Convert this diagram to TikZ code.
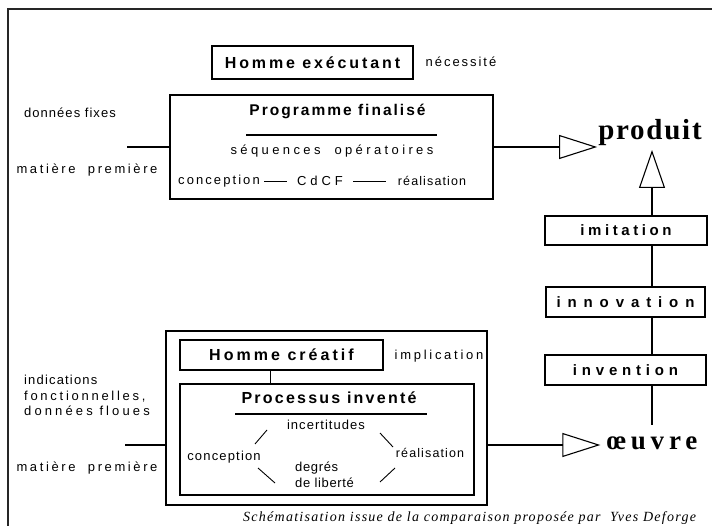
\documentclass[tikz,border=0pt]{standalone}
\usepackage{fontspec}
\setmainfont{Liberation Sans}
\newfontfamily\serifface{Liberation Serif}
\usetikzlibrary{arrows.meta}
\newcommand{\ls}[2]{{\addfontfeatures{LetterSpace=#1}#2}}
\newcommand{\fs}[1]{\fontsize{#1}{#1}\selectfont}
\tikzset{
  box/.style={draw, line width=1.2pt, inner sep=0pt, align=center},
  lbl/.style={inner sep=0pt, anchor=center},
  wire/.style={line width=1.1pt},
  openarrow/.style={line width=1.1pt, -{Triangle[open, length=38pt, width=24pt, line width=1.1pt]}},
  openarrowv/.style={line width=1.1pt, -{Triangle[open, length=38pt, width=26pt, line width=1.1pt]}},
}
\begin{document}
\begin{tikzpicture}[x=1pt, y=-1pt]
\useasboundingbox (0,0) rectangle (712,526);
\clip (0,0) rectangle (712,526);
% outer frame
\draw[line width=1.6pt, black!85] (8,530) -- (8,9) -- (716,9);

% ---- upper part ----
\node[box, minimum width=201pt, minimum height=33pt] (homexec) at (312.5,62.5)
  {\fs{16}\bfseries\ls{18}{Homme exécutant}};
\node[lbl] (necess) at (461,62) {\fs{13}\ls{15}{nécessité}};
\node[box, minimum width=323pt, minimum height=104pt] (prog) at (331.5,147) {};
\node[lbl] (progt) at (337.5,111) {\fs{15.5}\bfseries\ls{13}{Programme finalisé}};
\coordinate (r1a) at (246,135);
\coordinate (r1b) at (437,135);
\draw[wire] (r1a) -- (r1b);
\node[lbl] (sequ) at (332,151) {\fs{13}\ls{26}{séquences\ \ opératoires}};
\node[lbl] (conc1) at (219,181) {\fs{13}\ls{16}{conception}};
\node[lbl] (cdcf) at (320,181) {\fs{13}\ls{30}{CdCF}};
\node[lbl] (real1) at (432,181) {\fs{12.5}\ls{9}{réalisation}};
\draw[line width=0.9pt, shorten <=4pt, shorten >=10pt] (conc1.east) -- (cdcf.west);
\draw[line width=0.9pt, shorten <=10pt, shorten >=12pt] (cdcf.east) -- (real1.west);

\node[lbl] (donnees) at (70,113) {\fs{13}\ls{8}{données fixes}};
\node[lbl] (mat1) at (87,170) {\fs{13}\ls{20}{matière\ \ première}};
\coordinate (in1) at (127,147);
\draw[wire] (in1) -- (prog.west);

\node[lbl, font=\serifface\bfseries] (produit) at (650,133) {\fs{29}\ls{6}{produit}};
\draw[openarrow] (prog.east) -- ([xshift=-1pt]produit.west |- prog.east);

% ---- right column ----
\node[box, minimum width=162pt, minimum height=29pt] (imit) at (626,230.5)
  {\fs{15}\bfseries\ls{24}{imitation}};
\node[box, minimum width=159pt, minimum height=30pt] (innov) at (625.5,302)
  {\fs{15}\bfseries\ls{46}{innovation}};
\node[box, minimum width=161pt, minimum height=30pt] (inven) at (625.5,370)
  {\fs{15}\bfseries\ls{32}{invention}};
\node[lbl, font=\serifface\bfseries] (oeuvre) at (652,443) {\fs{27}\ls{18}{œuvre}};
\coordinate (imtop) at (652,216);
\coordinate (protip) at (652,150);
\draw[openarrowv] (imtop) -- (protip);
\draw[wire] (imit.south -| imtop) -- (innov.north -| imtop);
\draw[wire] (innov.south -| imtop) -- (inven.north -| imtop);
\draw[wire] (inven.south -| imtop) -- (652,425);

% ---- lower part ----
\node[box, minimum width=321pt, minimum height=174pt] (crea) at (326.5,418) {};
\node[box, minimum width=203pt, minimum height=30pt] (homcrea) at (281.5,355)
  {\fs{16}\bfseries\ls{19}{Homme créatif}};
\node[lbl] (implic) at (439,356) {\fs{13}\ls{21}{implication}};
\node[box, minimum width=294pt, minimum height=111pt] (proc) at (327,439.5) {};
\draw[wire] ([xshift=-11pt]homcrea.south) -- ([xshift=-11pt]homcrea.south |- proc.north);
\node[lbl] (proct) at (329,398) {\fs{16}\bfseries\ls{14}{Processus inventé}};
\coordinate (r2a) at (235,414);
\coordinate (r2b) at (427,414);
\draw[wire] (r2a) -- (r2b);
\node[lbl] (incert) at (326,425) {\fs{13}\ls{8}{incertitudes}};
\node[lbl] (conc2) at (224,457) {\fs{13}\ls{9}{conception}};
\node[lbl, anchor=north west, align=left, font=\fontsize{13}{16}\selectfont] (degres) at (295,462)
  {\ls{5}{degrés}\\\ls{5}{de liberté}};
\node[lbl] (real2) at (430,453) {\fs{12.5}\ls{9}{réalisation}};
\draw[line width=0.9pt] (255,444) -- (267,430);
\draw[line width=0.9pt] (258,468) -- (275,483);
\draw[line width=0.9pt] (380,433) -- (393,447);
\draw[line width=0.9pt] (395,468) -- (380,482);

\node[lbl, anchor=north west, align=left, font=\fontsize{13}{15.5}\selectfont] (indic) at (24,375)
  {\ls{9}{indications}\\\ls{21}{fonctionnelles,}\\\ls{24}{données floues}};
\node[lbl] (mat2) at (87,468) {\fs{13}\ls{20}{matière\ \ première}};
\coordinate (in2) at (125,445);
\draw[wire] (in2) -- (in2 -| crea.west);
\draw[openarrow] (crea.east |- in2) -- ([xshift=-6pt]oeuvre.west |- in2);

% caption
\node[inner sep=0pt, anchor=base west, font=\serifface\itshape] (caption) at (243,521)
  {\fs{14}\ls{9}{Schématisation issue de la comparaison proposée par\ \ Yves Deforge}};
\end{tikzpicture}
\end{document}
